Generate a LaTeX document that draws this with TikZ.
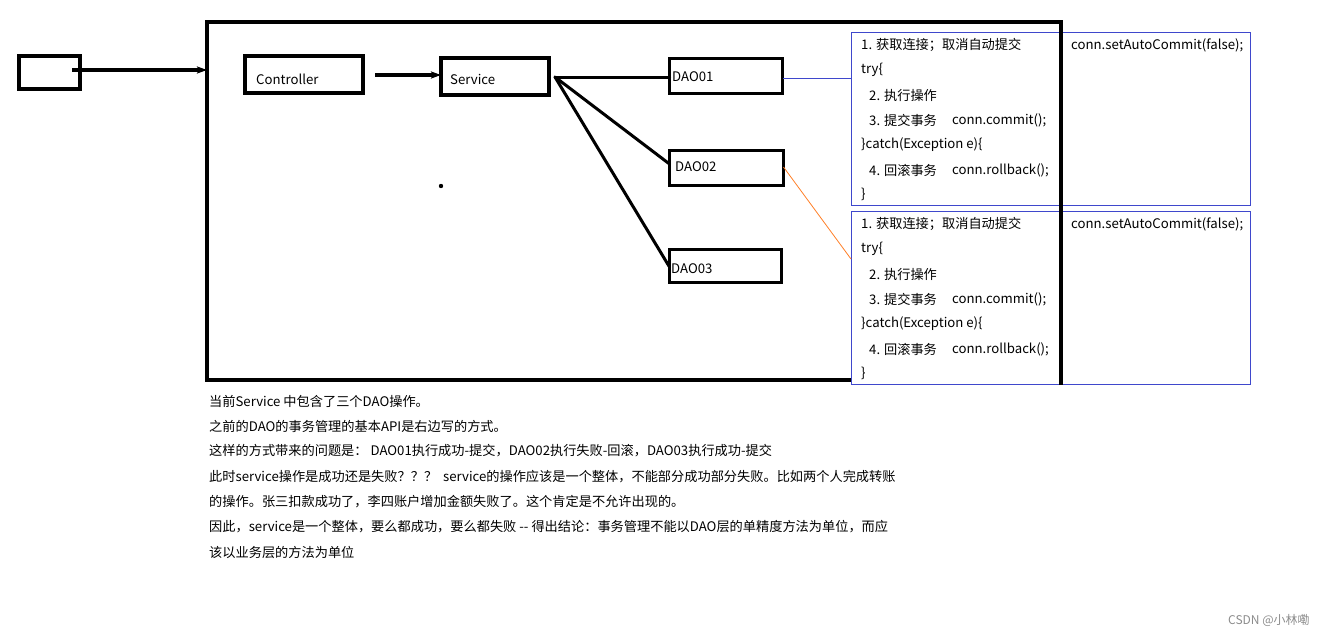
\documentclass[tikz,border=0pt]{standalone}
\usepackage{fontspec}
\setmainfont{Noto Sans CJK SC}
\usetikzlibrary{arrows.meta,calc}
\definecolor{pblue}{RGB}{63,72,204}
\definecolor{porange}{RGB}{255,127,39}
\begin{document}
\begin{tikzpicture}[x=1pt,y=-1pt,
  pbox/.style={draw=black,line width=#1,inner sep=0,anchor=north west,outer sep=0},
  bluebox/.style={draw=pblue,line width=1pt,fill=white,inner sep=0,anchor=north west,outer sep=0},
  txt/.style={anchor=west,inner sep=0,font=\fontsize{13.2}{13.2}\selectfont},
  conn/.style={line width=3pt,line cap=round},
  arr/.style={line width=4pt,-{Stealth[length=10pt,width=7pt,inset=2pt]}}]
\useasboundingbox (0,0) rectangle (1341,637);
% big frame
\node[pbox=4.5pt, minimum width=854pt, minimum height=358pt] (frame) at (207,22) {};
% source box
\node[pbox=4pt, minimum width=61pt, minimum height=33pt] (src) at (19,56) {};
% controller / service
\node[pbox=3.5pt, minimum width=118pt, minimum height=37pt] (ctl) at (245,56) {};
\node[pbox=3.5pt, minimum width=108pt, minimum height=37pt] (svc) at (441,58) {};
\node[txt] (ctltxt) at (256,79) {Controller};
\node[txt] (svctxt) at (450,79) {Service};
% DAO boxes
\node[pbox=3pt, minimum width=113pt, minimum height=35pt] (d1) at (669.5,58.5) {};
\node[pbox=3pt, minimum width=114pt, minimum height=35pt] (d2) at (669.5,150.5) {};
\node[pbox=3pt, minimum width=112pt, minimum height=33pt] (d3) at (669.5,249.5) {};
\node[txt] (d1txt) at (672,77) {DAO01};
\node[txt] (d2txt) at (675,167) {DAO02};
\node[txt] (d3txt) at (671,269) {DAO03};
% arrows
\coordinate (srcin) at (72,70);
\draw[arr] (srcin) -- (frame.west |- srcin);
\coordinate (ctlout) at (375,75);
\draw[arr] (ctlout) -- (svc.west |- ctlout);
% service to DAO
\coordinate (sv) at (555,77);
\draw[conn] (sv) -- (d1.west |- sv);
\draw[conn] (sv) -- ($(d2.west)+(0,-4)$);
\draw[conn] (sv) -- ($(d3.west)+(0,1)$);
% dot
\fill (441,186) circle (2.2pt);
% blue boxes
\node[bluebox, minimum width=399pt, minimum height=173pt] (b1) at (851,32) {};
\node[bluebox, minimum width=399pt, minimum height=173pt] (b2) at (851,211) {};
\draw[pblue,line width=1pt] ($(d1.east)+(0,2)$) -- ($(b1.west |- d1.east)+(0,2)$);
\coordinate (b2in) at (851,259);
\draw[porange,line width=0.8pt] ($(d2.east)+(0,-1)$) -- (b2in);
% frame right edge over the blue boxes
\draw[line width=4.5pt] (frame.north east) -- ($(frame.south east)+(0,5)$);
% text in blue boxes
\foreach \y/\b in {0/1,179/2}{
  \node[txt] (l1\b) at (861,45+\y) {1. 获取连接；取消自动提交};
  \node[txt] (r1\b) at (1071,45+\y) {conn.setAutoCommit(false);};
  \node[txt] (l2\b) at (861,70+\y) {try\{};
  \node[txt] (l3\b) at (869,95+\y) {2. 执行操作};
  \node[txt] (l4\b) at (869,120+\y) {3. 提交事务};
  \node[txt] (c4\b) at (952,120+\y) {conn.commit();};
  \node[txt] (l5\b) at (861,145+\y) {\}catch(Exception e)\{};
  \node[txt] (l6\b) at (869,170+\y) {4. 回滚事务};
  \node[txt] (c6\b) at (952,170+\y) {conn.rollback();};
  \node[txt] (l7\b) at (861,194+\y) {\}};
}
% explanation text
\node[txt] (t1) at (209,401) {当前Service 中包含了三个DAO操作。};
\node[txt] (t2) at (209,426) {之前的DAO的事务管理的基本API是右边写的方式。};
\node[txt] (t3) at (209,451) {这样的方式带来的问题是： DAO01执行成功-提交，DAO02执行失败-回滚，DAO03执行成功-提交};
\node[txt] (t4) at (209,477) {此时service操作是成功还是失败？？？ \ service的操作应该是一个整体，不能部分成功部分失败。比如两个人完成转账};
\node[txt] (t5) at (209,502) {的操作。张三扣款成功了，李四账户增加金额失败了。这个肯定是不允许出现的。};
\node[txt] (t6) at (209,527) {因此，service是一个整体，要么都成功，要么都失败 {-}{-} 得出结论：事务管理不能以DAO层的单精度方法为单位，而应};
\node[txt] (t7) at (209,552) {该以业务层的方法为单位};
% watermark
\node[txt,text=black!45,font=\fontsize{12}{12}\selectfont] (wm) at (1228,620) {CSDN @小林嘞};
\end{tikzpicture}
\end{document}
